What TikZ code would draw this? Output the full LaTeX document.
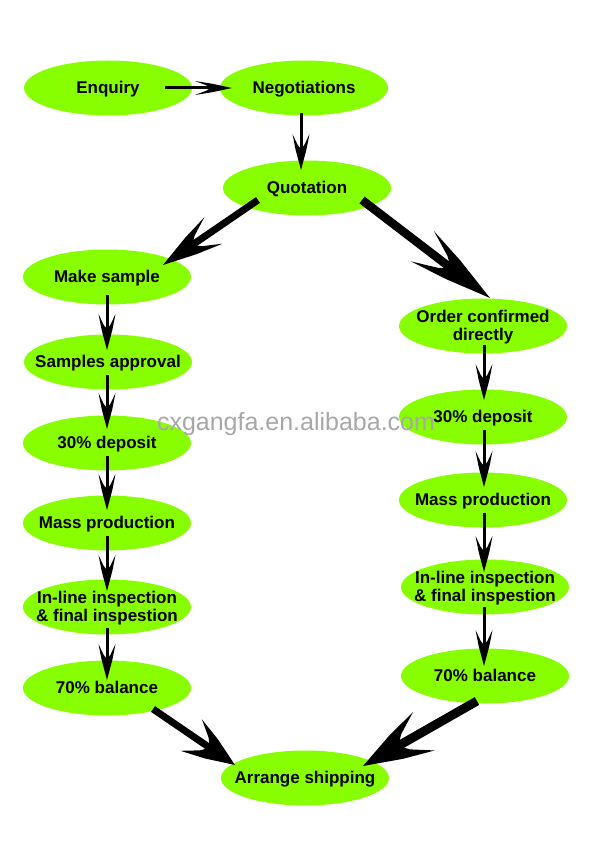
\documentclass[tikz,border=0pt]{standalone}
\usepackage{fontspec}
\setmainfont{Liberation Sans}
\usetikzlibrary{shapes.geometric,calc}
\definecolor{lgreen}{RGB}{136,255,0}
\definecolor{wmgray}{RGB}{168,168,168}
\newcommand\lbl[1]{\makebox[0pt]{\raisebox{-6pt}[0pt][0pt]{\begin{tabular}{@{}c@{}}#1\end{tabular}}}}
% #1 start, #2 end, #3 line width, #4 head length, #5 head half width, #6 shaft stop (dimension)
\newcommand\arr[6]{%
  \draw[line width=#3] (#1) -- ($(#2)!#6!(#1)$);
  \fill let \p1=($(#2)-(#1)$), \n1={atan2(\y1,\x1)} in
    [shift={(#2)}, rotate=\n1]
    (0,0) -- (-0.55*#4, 0.62*#5) -- (-#4,#5) -- (-0.7*#4,0.4*#5) -- (-0.58*#4,0)
    -- (-0.7*#4,-0.4*#5) -- (-#4,-#5) -- (-0.55*#4,-0.62*#5) -- cycle;
}
\begin{document}
\begin{tikzpicture}[x=1pt,y=-1pt,
  bub/.style={ellipse,fill=lgreen,minimum width=168pt,minimum height=55pt,inner sep=0pt,
    font=\bfseries\fontsize{17}{18}\selectfont}]
\useasboundingbox[fill=white] (0,0) rectangle (591,850);

\node[bub] (enq) at (108,88) {\lbl{Enquiry}};
\node[bub] (neg) at (304,88) {\lbl{Negotiations}};
\node[bub] (quo) at (307,188) {\lbl{Quotation}};
\node[bub] (mks) at (107,277) {\lbl{Make sample}};
\node[bub] (sap) at (108,362) {\lbl{Samples approval}};
\node[bub] (dl)  at (107,443) {\lbl{30\% deposit}};
\node[bub] (mpl) at (107,523) {\lbl{Mass production}};
\node[bub] (inl) at (107,607) {\lbl{In-line inspection\\\& final inspestion}};
\node[bub] (bl)  at (107,688) {\lbl{70\% balance}};
\node[bub] (ocd) at (483,326) {\lbl{Order confirmed\\directly}};
\node[bub] (dr)  at (483,417) {\lbl{30\% deposit}};
\node[bub] (mpr) at (483,500) {\lbl{Mass production}};
\node[bub] (inr) at (485,587) {\lbl{In-line inspection\\\& final inspestion}};
\node[bub] (br)  at (485,676) {\lbl{70\% balance}};
\node[bub] (ash) at (305,778) {\lbl{Arrange shipping}};

% arrow end points
\coordinate (e1s) at ($(enq.center)+(57,0)$);
\coordinate (e1e) at ($(neg.center)+(-72,0)$);
\coordinate (e2s) at ($(neg.center)+(-3,25)$);
\coordinate (e2e) at ($(quo.center)+(-6,-18)$);
\coordinate (t1s) at ($(quo.center)+(-49,12)$);
\coordinate (t1e) at ($(mks.center)+(56,-12)$);
\coordinate (t2s) at ($(quo.center)+(55,12)$);
\coordinate (t2e) at ($(ocd.center)+(7,-28)$);
\coordinate (l1s) at ($(mks.center)+(0,18)$);
\coordinate (l1e) at ($(sap.center)+(-1,-12)$);
\coordinate (l2s) at ($(sap.center)+(-1,13)$);
\coordinate (l2e) at ($(dl.center)+(0,-14)$);
\coordinate (l3s) at ($(dl.center)+(0,13)$);
\coordinate (l3e) at ($(mpl.center)+(0,-13)$);
\coordinate (l4s) at ($(mpl.center)+(0,13)$);
\coordinate (l4e) at ($(inl.center)+(0,-16)$);
\coordinate (l5s) at ($(inl.center)+(0,21)$);
\coordinate (l5e) at ($(bl.center)+(0,-8)$);
\coordinate (r1s) at ($(ocd.center)+(1,19)$);
\coordinate (r1e) at ($(dr.center)+(1,-17)$);
\coordinate (r2s) at ($(dr.center)+(1,13)$);
\coordinate (r2e) at ($(mpr.center)+(1,-13)$);
\coordinate (r3s) at ($(mpr.center)+(1,13)$);
\coordinate (r3e) at ($(inr.center)+(-1,-15)$);
\coordinate (r4s) at ($(inr.center)+(-1,20)$);
\coordinate (r4e) at ($(br.center)+(-1,-10)$);
\coordinate (b1s) at ($(bl.center)+(46,21)$);
\coordinate (b1e) at ($(ash.center)+(-70,-13)$);
\coordinate (b2s) at ($(br.center)+(-8,25)$);
\coordinate (b2e) at ($(ash.center)+(58,-12)$);

\arr{e1s}{e1e}{3pt}{37}{7}{18pt}
\arr{e2s}{e2e}{3pt}{36}{8.5}{18pt}
\arr{t1s}{t1e}{7pt}{61}{16}{34pt}
\arr{t2s}{t2e}{8.5pt}{85}{19}{47pt}
\arr{l1s}{l1e}{3pt}{36}{8.5}{18pt}
\arr{l2s}{l2e}{3pt}{36}{8.5}{18pt}
\arr{l3s}{l3e}{3pt}{36}{8.5}{18pt}
\arr{l4s}{l4e}{3pt}{36}{8.5}{18pt}
\arr{l5s}{l5e}{3pt}{36}{8.5}{18pt}
\arr{r1s}{r1e}{3pt}{36}{8.5}{18pt}
\arr{r2s}{r2e}{3pt}{36}{8.5}{18pt}
\arr{r3s}{r3e}{3pt}{36}{8.5}{18pt}
\arr{r4s}{r4e}{3pt}{36}{8.5}{18pt}
\arr{b1s}{b1e}{7pt}{53}{19}{30pt}
\arr{b2s}{b2e}{9pt}{70}{22}{39pt}

\node[text=wmgray,font=\fontsize{25}{25}\selectfont,inner sep=0pt] (wm) at (296,424) {cxgangfa.en.alibaba.com};
\end{tikzpicture}
\end{document}
